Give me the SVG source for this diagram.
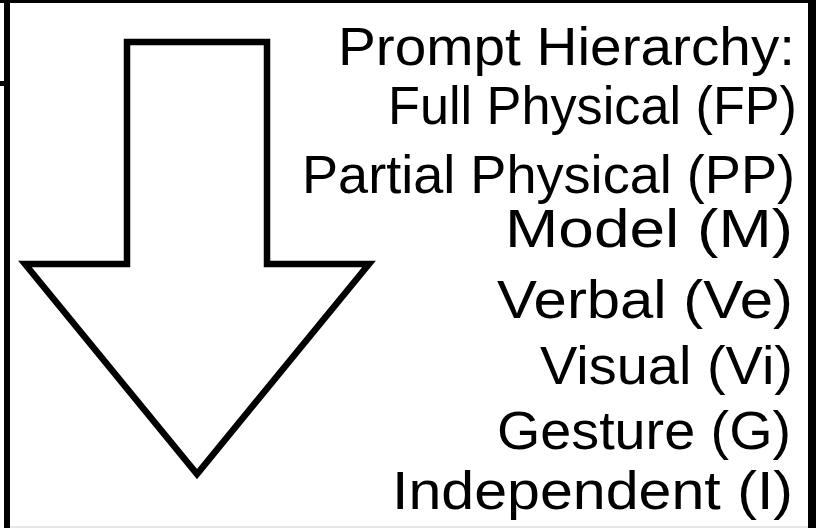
<svg xmlns="http://www.w3.org/2000/svg" width="816" height="528" viewBox="0 0 816 528">
<style>
.lbl{font-family:"Liberation Sans","DejaVu Sans",sans-serif;font-size:53px;fill:#000;text-anchor:end}
.frame{fill:#000}
</style>
<rect x="0" y="0" width="816" height="528" fill="#fff"/>
<g id="frame">
<rect class="frame" x="0" y="0" width="816" height="3"/>
<rect class="frame" x="4" y="0" width="6" height="528"/>
<rect class="frame" x="0" y="81" width="10" height="5"/>
<rect class="frame" x="808" y="0" width="8" height="528"/>
<rect x="10" y="526" width="798" height="2" fill="#e6e6e6"/>
</g>
<g id="arrow">
<polygon points="127,42 267,42 267,264 369,264 197,474 25,264 127,264" fill="#fff" stroke="#000" stroke-width="6.5" stroke-linejoin="miter"/>
</g>
<g id="connectors"></g>
<g id="labels">
<text class="lbl" x="795" y="65" textLength="457" lengthAdjust="spacingAndGlyphs">Prompt Hierarchy:</text>
<text class="lbl" x="797" y="124" textLength="409" lengthAdjust="spacingAndGlyphs">Full Physical (FP)</text>
<text class="lbl" x="795" y="193" textLength="493" lengthAdjust="spacingAndGlyphs">Partial Physical (PP)</text>
<text class="lbl" x="793" y="247" textLength="288" lengthAdjust="spacingAndGlyphs">Model (M)</text>
<text class="lbl" x="793" y="318" textLength="296" lengthAdjust="spacingAndGlyphs">Verbal (Ve)</text>
<text class="lbl" x="793" y="384" textLength="253" lengthAdjust="spacingAndGlyphs">Visual (Vi)</text>
<text class="lbl" x="791" y="449" textLength="294" lengthAdjust="spacingAndGlyphs">Gesture (G)</text>
<text class="lbl" x="793" y="509" textLength="401" lengthAdjust="spacingAndGlyphs">Independent (I)</text>
</g>
</svg>
